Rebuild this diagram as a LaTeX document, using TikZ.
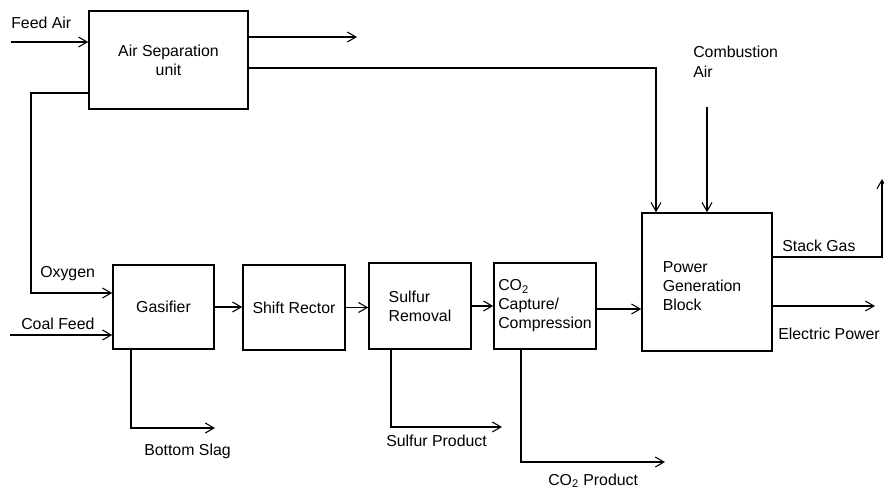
\documentclass[tikz,border=0pt]{standalone}
\usepackage{fontspec}
\setmainfont{Liberation Sans}
\usepackage{tikz}
\usetikzlibrary{arrows.meta, positioning, calc}

\begin{document}
\begin{tikzpicture}[x=0.75pt, y=-0.75pt,
    unitbox/.style={draw, line width=1.2pt, inner sep=0pt,
                    font=\fontsize{11.9pt}{14.3pt}\selectfont},
    flow/.style={line width=0.8pt, -{Straight Barb[length=6.5pt, width=7.5pt, line width=0.8pt]}},
    lbl/.style={anchor=base west, inner sep=0pt,
                font=\fontsize{11.9pt}{14.3pt}\selectfont, align=left}]
      \useasboundingbox (0,0) rectangle (884,489);

      % Air separation unit
      \node[unitbox, minimum width=119.25pt, minimum height=73.5pt, align=center]
            (asu) at (168.5,60) {Air Separation\\unit};

      % main gas train
      \node[unitbox, minimum width=75.75pt, minimum height=63pt]
            (gas) at (163.5,307) {Gasifier};
      \node[unitbox, minimum width=76.5pt, minimum height=63.75pt]
            (shift) at (294,307.5) {Shift Rector};
      \node[unitbox, minimum width=76.5pt, minimum height=64.5pt, align=left]
            (sulf) at (420,306) {Sulfur\\Removal};
      \node[unitbox, minimum width=76.5pt, minimum height=64.5pt, align=left]
            (co2) at (545,306) {CO\textsubscript{2}\\Capture/\\Compression};

      % Power generation block
      \node[unitbox, minimum width=97.5pt, minimum height=103.5pt]
            (pgb) at (707,282) {};
      \node[lbl, anchor=center] (pgbtxt) at (702,286) {Power\\Generation\\Block};

      % free ends
      \coordinate (feedin) at (11,42);
      \coordinate (asuvent) at (357,37);
      \coordinate (coalin) at (10,335);
      \coordinate (combin) at (707,107);
      \coordinate (stack) at (882,179);
      \coordinate (power) at (875,306);
      \coordinate (slag) at (215,428);
      \coordinate (sprod) at (502,427);
      \coordinate (cprod) at (665,462);

      % streams
      \draw[flow] (feedin) -- (asu.west |- feedin);
      \draw[flow] (asu.east |- asuvent) -- (asuvent);
      \draw[flow] (asu.east |- 0,68) -| (pgb.north -| 656,0);
      \draw[flow] (asu.west |- 0,93) -- (31,93) |- (gas.west |- 0,293);
      \draw[flow] (coalin) -- (gas.west |- coalin);
      \draw[flow] (combin) -- (pgb.north);
      \draw[flow] (gas.east) -- (shift.west |- gas.east);
      \draw[flow] (shift.east) -- (sulf.west |- shift.east);
      \draw[flow] (sulf.east) -- (co2.west);
      \draw[flow] (co2.east |- 0,309) -- (pgb.west |- 0,309);
      \draw[flow] (pgb.east |- 0,257) -| (stack);
      \draw[flow] (pgb.east |- power) -- (power);
      \draw[flow] (gas.south -| 131,0) |- (slag);
      \draw[flow] (sulf.south -| 391,0) |- (sprod);
      \draw[flow] (co2.south -| 521,0) |- (cprod);

      % stream labels
      \node[lbl] (feedlbl) at (11,28.5) {Feed Air};
      \node[lbl] (oxlbl) at (40,277) {Oxygen};
      \node[lbl] (coallbl) at (21,329) {Coal Feed};
      \node[lbl] (comblbl) at (693,77) {Combustion\\Air};
      \node[lbl] (stacklbl) at (782,251) {Stack Gas};
      \node[lbl] (powerlbl) at (778,339) {Electric Power};
      \node[lbl] (slaglbl) at (144,455) {Bottom Slag};
      \node[lbl] (sprodlbl) at (386,446) {Sulfur Product};
      \node[lbl] (cprodlbl) at (548,485) {CO\textsubscript{2} Product};

    \end{tikzpicture}
\end{document}
